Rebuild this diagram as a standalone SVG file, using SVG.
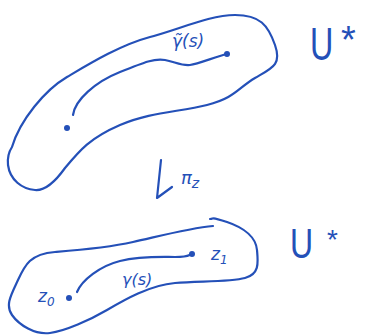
<svg xmlns="http://www.w3.org/2000/svg" width="365" height="335" viewBox="0 0 365 335">
<style>
.ink{fill:none;stroke:#2450b8;stroke-width:2.2;stroke-linecap:round;stroke-linejoin:round}
.dot{fill:#2450b8}
.t{fill:#2450b8;font-family:"DejaVu Sans",sans-serif;font-style:italic}
.u{fill:#2450b8;font-family:"Liberation Sans",sans-serif}
</style>
<rect width="365" height="335" fill="#ffffff"/>
<g id="upper-region">
<path class="ink" d="M12,147 C20,120 45,90 67,77 S120,45 150,37 S210,15 235,15 S268,25 275,45 S272,68 255,78 S235,98 207,105 S150,112 120,125 S80,150 65,168 C55,182 45,191 35,190 C22,189 10,180 8,165 C7,155 10,150 12,147"/>
<path class="ink" d="M73,115 C75,100 95,82 120,72 S155,58 165,60 S182,66 190,65 S215,57 227,54"/>
<circle class="dot" cx="227" cy="54" r="3"/>
<circle class="dot" cx="67" cy="128" r="3"/>
<text class="t" x="172" y="47" font-size="17">γ̃(s)</text>
<text class="u" transform="translate(310,60) scale(0.95,1.35)" font-size="34">U</text>
<text class="u" x="341" y="53" font-size="38">*</text>
</g>
<g id="lower-region">
<path class="ink" d="M213,226 C190,228 160,236 133,242 S80,250 55,252 S25,265 18,280 S5,305 12,315 S35,335 50,333 S90,320 107,310 S150,285 175,283 S230,282 245,278 S258,262 257,250 S245,228 227,222 S215,219 210,219"/>
<path class="ink" d="M77,292 C82,280 100,266 120,261 S160,257 175,257 S188,255 192,254"/>
<circle class="dot" cx="192" cy="254" r="3"/>
<circle class="dot" cx="69" cy="298" r="3"/>
<text class="t" x="211" y="260" font-size="17">z<tspan font-size="12" dy="4">1</tspan></text>
<text class="t" x="38" y="302" font-size="17">z<tspan font-size="12" dy="4">0</tspan></text>
<text class="t" x="122" y="285" font-size="16">γ(s)</text>
<text class="u" transform="translate(290,258) scale(1,1.3)" font-size="32">U</text>
<text class="u" x="327" y="249" font-size="28">*</text>
</g>
<g id="connectors">
<path class="ink" d="M161,160 L157,198 L172,187"/>
<text class="t" x="181" y="184" font-size="18" font-style="normal">π<tspan font-size="14" dy="4">z</tspan></text>
</g>
</svg>
